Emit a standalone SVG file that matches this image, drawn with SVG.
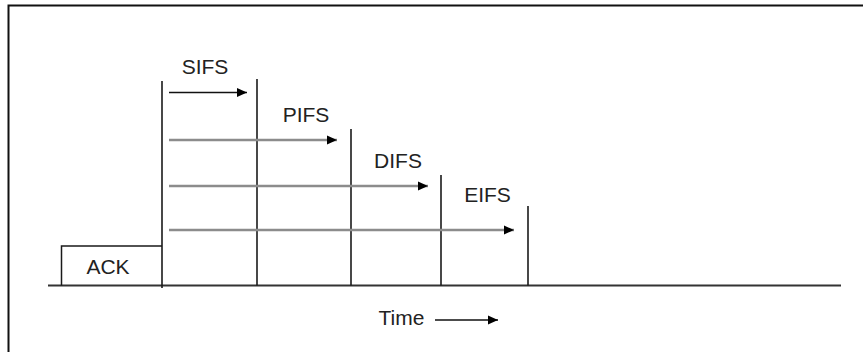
<svg xmlns="http://www.w3.org/2000/svg" width="863" height="352" viewBox="0 0 863 352">
  <style>
    .lbl { font-family: "Liberation Sans", Arial, sans-serif; font-size: 21px; fill: #222; }
    .edge { stroke: #1a1a1a; stroke-width: 1.5; fill: none; }
    .axis { stroke: #333; stroke-width: 2; fill: none; }
    .tick { stroke: #1a1a1a; stroke-width: 1.6; fill: none; }
    .ifs-black { stroke: #111; stroke-width: 1.6; fill: none; marker-end: url(#head); }
    .ifs-gray { stroke: #8c8c8c; stroke-width: 2.6; fill: none; marker-end: url(#head); }
  </style>
  <defs>
    <marker id="head" markerUnits="userSpaceOnUse" markerWidth="12" markerHeight="12" viewBox="0 0 12 12" refX="10" refY="6" orient="auto">
      <path d="M0,1.5 L10,6 L0,10.5 Z" fill="#000"/>
    </marker>
  </defs>

  <rect width="863" height="352" fill="#fff"/>

  <!-- outer frame (open to the right and bottom) -->
  <g id="frame">
    <path d="M8.5,360 L8.5,5.5 L870,5.5" stroke="#111" stroke-width="2" fill="none"/>
  </g>

  <!-- time axis -->
  <g id="axis">
    <line class="axis" x1="48" y1="285.5" x2="841" y2="285.5"/>
  </g>

  <!-- ACK frame -->
  <g id="ack">
    <path class="edge" d="M61.5,285.5 L61.5,246 L162,246"/>
    <text class="lbl" x="108" y="274" text-anchor="middle">ACK</text>
  </g>

  <!-- interval boundaries -->
  <g id="boundaries">
    <line id="b0" class="tick" x1="162" y1="81" x2="162" y2="288"/>
    <line id="b-sifs" class="tick" x1="257" y1="79" x2="257" y2="285.5"/>
    <line id="b-pifs" class="tick" x1="351" y1="129" x2="351" y2="285.5"/>
    <line id="b-difs" class="tick" x1="441" y1="175" x2="441" y2="285.5"/>
    <line id="b-eifs" class="tick" x1="528" y1="206" x2="528" y2="285.5"/>
  </g>

  <!-- interval labels -->
  <g id="sifs"><text class="lbl" x="205" y="74" text-anchor="middle">SIFS</text></g>
  <g id="pifs"><text class="lbl" x="306" y="121.5" text-anchor="middle">PIFS</text></g>
  <g id="difs"><text class="lbl" x="398" y="168" text-anchor="middle">DIFS</text></g>
  <g id="eifs"><text class="lbl" x="487.5" y="201.5" text-anchor="middle">EIFS</text></g>

  <!-- interval arrows -->
  <g id="connectors">
    <line class="ifs-black" x1="169" y1="92.5" x2="247" y2="92.5"/>
    <line class="ifs-gray" x1="169" y1="140" x2="337" y2="140"/>
    <line class="ifs-gray" x1="169" y1="186" x2="428" y2="186"/>
    <line class="ifs-gray" x1="169" y1="230" x2="514" y2="230"/>
    <line class="ifs-black" x1="435" y1="320" x2="498" y2="320"/>
  </g>

  <!-- time legend -->
  <g id="time">
    <text class="lbl" x="401.5" y="325" text-anchor="middle">Time</text>
  </g>
</svg>
